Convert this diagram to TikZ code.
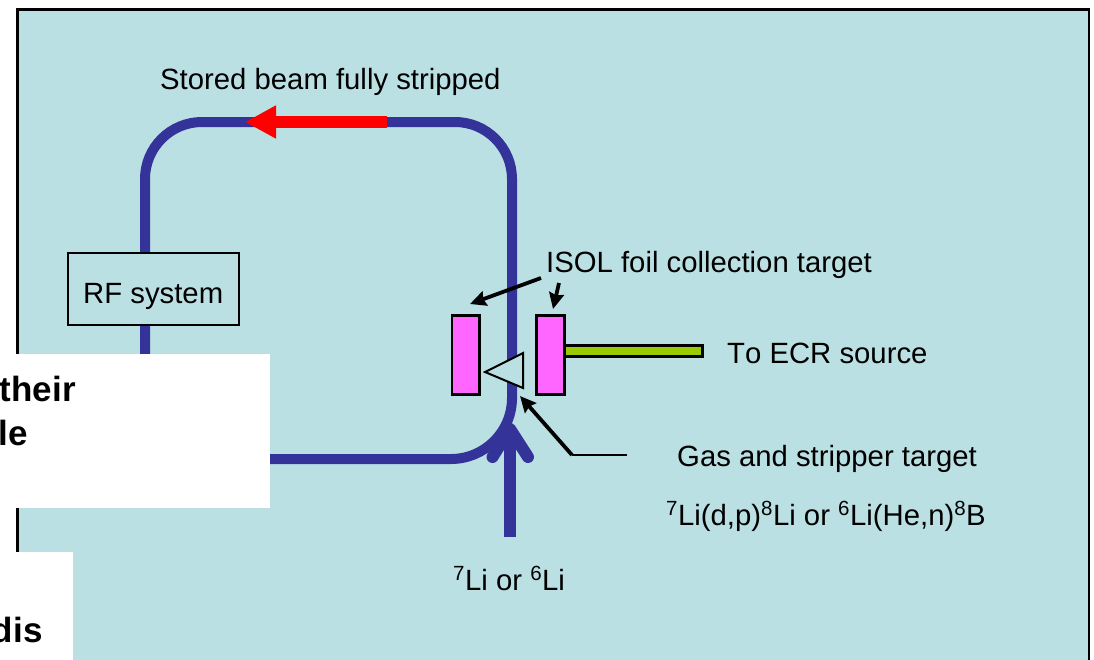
\documentclass[tikz,border=0pt]{standalone}
\usepackage{fontspec}
\setmainfont[Kerning=Off]{Liberation Sans}
\usepackage{tikz}
\usetikzlibrary{arrows.meta}
\definecolor{panelcol}{HTML}{BAE0E3}
\definecolor{ringcol}{HTML}{333399}
\definecolor{foilcol}{HTML}{FF66FF}
\definecolor{tubecol}{HTML}{99CC00}
\tikzset{
lbl/.style={font=\fontsize{29.3}{33}\selectfont, inner sep=0pt, anchor=base west},
cutlbl/.style={font=\fontsize{35}{40}\selectfont\bfseries, inner sep=0pt, anchor=base east},
ring/.style={draw=ringcol, line width=10pt},
pointer/.style={draw=black, line width=3.8pt, -{Stealth[length=16pt,width=15pt,inset=2pt]}},
foil/.style={draw=black, line width=2.6pt, fill=foilcol, inner sep=0pt, outer sep=0pt, minimum width=27.5pt, minimum height=79.5pt}
}

\begin{document}
\begin{tikzpicture}[x=1pt,y=-1pt]

                \useasboundingbox (0,0) rectangle (1094,659);
                \fill[white] (0,0) rectangle (1094,659);
                \draw[black, line width=2.7pt, fill=panelcol] (17.3,9.7) -- (1089,9.7) -- (1089,670) -- (17.3,670) -- cycle;

                \coordinate (R1) at (387,122);
                \coordinate (R2) at (245,122);
                \coordinate (B1) at (512,400);
                \coordinate (Li1) at (510,537);
                \coordinate (Li2) at (510,429);
                \coordinate (Li3) at (492.5,457);
                \coordinate (Li4) at (528,457);

                \draw[ring] (B1) -- (512,179) arc (0:-90:57) -- (202,122) arc (-90:-180:57) -- (145,402) arc (180:90:57) -- (451,459) arc (90:0:61);
                \draw[draw=red, line width=12pt, -{Triangle[length=31pt,width=31pt]}] (R1) -- (R2);

                \draw[draw=ringcol, line width=12pt] (Li1) -- (Li2);
                \draw[draw=ringcol, line width=12pt, line cap=round, line join=round] (Li3) -- (Li2) -- (Li4);

                \node[draw=black, line width=2.5pt, fill=panelcol, inner sep=0pt, outer sep=0pt, minimum width=171pt, minimum height=72pt] (RF) at (153.5,289) {};
                \node[lbl] (L7) at (83,303) {RF system};

                \node[foil] (F1) at (465.7,355) {};
                \node[foil] (F2) at (550.5,355) {};
                \node[draw=black, line width=2.6pt, fill=tubecol, inner sep=0pt, outer sep=0pt, minimum width=138pt, minimum height=10.5pt] (T) at (633.4,351) {};

                \coordinate (S1) at (485,372);
                \coordinate (S2) at (523,353);
                \coordinate (S3) at (523,388);
                \draw[black, line width=2pt, fill=panelcol] (S1) -- (S2) -- (S3) -- cycle;

                \node[lbl] (L1) at (160,89) {Stored beam fully stripped};
                \node[lbl] (L2) at (546,272) {ISOL foil collection target};
                \node[lbl] (L3) at (727,363) {To ECR source};
                \node[lbl] (L4) at (677,466) {Gas and stripper target};
                \node[lbl] (L5) at (666,525) {\textsuperscript{7}Li(d,p)\textsuperscript{8}Li or \textsuperscript{6}Li(He,n)\textsuperscript{8}B};
                \node[lbl] (L6) at (453,590) {\textsuperscript{7}Li or \textsuperscript{6}Li};

                \coordinate (P1) at (541,278);
                \coordinate (P2) at (470,304);
                \coordinate (P3) at (559,283);
                \coordinate (P4) at (553,309);
                \coordinate (P5) at (627,455);
                \coordinate (P6) at (572,455);
                \coordinate (P7) at (520,396);
                \draw[pointer] (P1) -- (P2);
                \draw[pointer] (P3) -- (P4);
                \draw[pointer] (P6) -- (P7);
                \draw[black, line width=2pt] (P5) -- (P6);

                \fill[white] (-2,354) rectangle (270,508);
                \fill[white] (-2,552) rectangle (73,661);
                \node[cutlbl] (C1) at (76,401) {their};
                \node[cutlbl] (C2) at (28,445) {le};
                \node[cutlbl] (C3) at (42.7,642) {dis};

\end{tikzpicture}
\end{document}
